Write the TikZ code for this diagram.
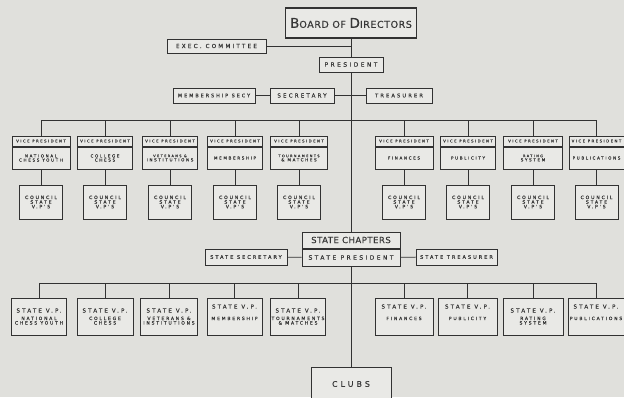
\documentclass[tikz,border=0pt]{standalone}
\usepackage{fontspec}
\usetikzlibrary{positioning}
\newfontfamily\chartfont[LetterSpace=40,FakeBold=0.4]{DejaVu Sans}
\newfontfamily\titlefont[LetterSpace=6,FakeBold=0.3]{DejaVu Sans}
\definecolor{ink}{RGB}{50,50,50}
\definecolor{lettering}{RGB}{55,55,55}
\definecolor{paper}{RGB}{224,224,220}
\definecolor{card}{RGB}{233,233,230}
\newcommand{\fs}[1]{\fontsize{#1}{#1}\selectfont}

\begin{document}
\begin{tikzpicture}[x=1pt,y=-1pt,
  box/.style={draw=ink,line width=1pt,fill=card,inner sep=0pt,align=center,
    text=lettering,font=\chartfont\fs{6}},
  vphead/.style={box,minimum height=10pt,font=\chartfont\fs{3.8}},
  vpbody/.style={box,minimum height=22pt,font=\chartfont\fs{4.1}},
  council/.style={box,minimum width=43pt,minimum height=34pt,font=\chartfont\fs{4.6}},
  statevp/.style={box,minimum height=37pt,font=\chartfont\fs{4.5}},
  link/.style={draw=ink,line width=0.9pt}]
\useasboundingbox[fill=paper] (0,0) rectangle (624,397);
\clip (0,0) rectangle (624,397);

\node[box,line width=1.6pt,minimum width=131pt,minimum height=30pt,font=\titlefont] (board) at (351,23)
  {{\fs{13.5}B}{\fs{9.5}OARD OF }{\fs{13.5}D}{\fs{9.5}IRECTORS}};
\node[box,minimum width=99pt,minimum height=14pt,font=\chartfont\fs{5.6}] (exec) at (216.5,46) {EXEC. COMMITTEE};
\node[box,minimum width=64pt,minimum height=15pt] (pres) at (351,64.5) {PRESIDENT};
\node[box,minimum width=82pt,minimum height=15pt,font=\chartfont\fs{4.9}] (memsec) at (214,95.5) {MEMBERSHIP SECY};
\node[box,minimum width=64pt,minimum height=15pt,font=\chartfont\fs{5.5}] (sec) at (302,95.5) {SECRETARY};
\node[box,minimum width=66pt,minimum height=15pt,font=\chartfont\fs{5.2}] (treas) at (399,95.5) {TREASURER};

\draw[link] (board) -- (pres);
\draw[link] (exec) -- (exec -| board);
\draw[link] (memsec) -- (sec);
\draw[link] (sec) -- (treas);

\node[vphead,minimum width=58pt] (vp1h) at (41,141) {VICE PRESIDENT};
\node[vpbody,minimum width=58pt,below=0pt of vp1h] (vp1) {NATIONAL\\CHESS YOUTH};
\node[vphead,minimum width=55pt] (vp2h) at (105,141) {VICE PRESIDENT};
\node[vpbody,minimum width=55pt,below=0pt of vp2h] (vp2) {COLLEGE\\CHESS};
\node[vphead,minimum width=55pt] (vp3h) at (170,141) {VICE PRESIDENT};
\node[vpbody,minimum width=55pt,below=0pt of vp3h] (vp3) {{\fs{3.5}VETERANS \&}\\INSTITUTIONS};
\node[vphead,minimum width=55pt] (vp4h) at (235,141) {VICE PRESIDENT};
\node[vpbody,minimum width=55pt,below=0pt of vp4h] (vp4) {MEMBERSHIP};
\node[vphead,minimum width=57pt] (vp5h) at (299,141) {VICE PRESIDENT};
\node[vpbody,minimum width=57pt,below=0pt of vp5h] (vp5) {{\fs{3.5}TOURNAMENTS}\\\& MATCHES};
\node[vphead,minimum width=58pt] (vp6h) at (404,141) {VICE PRESIDENT};
\node[vpbody,minimum width=58pt,below=0pt of vp6h] (vp6) {FINANCES};
\node[vphead,minimum width=55pt] (vp7h) at (468,141) {VICE PRESIDENT};
\node[vpbody,minimum width=55pt,below=0pt of vp7h] (vp7) {PUBLICITY};
\node[vphead,minimum width=59pt] (vp8h) at (533,141) {VICE PRESIDENT};
\node[vpbody,minimum width=59pt,below=0pt of vp8h] (vp8) {{\fs{3.5}RATING}\\SYSTEM};
\node[vphead,minimum width=55pt] (vp9h) at (596.5,141) {VICE PRESIDENT};
\node[vpbody,minimum width=55pt,below=0pt of vp9h] (vp9) {PUBLICATIONS};

\coordinate (vbus) at (351,120);
\draw[link] (vp1h.north |- vbus) -- (vp9h.north |- vbus);
\draw[link] (vp1h) -- (vp1h.north |- vbus);
\draw[link] (vp2h) -- (vp2h.north |- vbus);
\draw[link] (vp3h) -- (vp3h.north |- vbus);
\draw[link] (vp4h) -- (vp4h.north |- vbus);
\draw[link] (vp5h) -- (vp5h.north |- vbus);
\draw[link] (vp6h) -- (vp6h.north |- vbus);
\draw[link] (vp7h) -- (vp7h.north |- vbus);
\draw[link] (vp8h) -- (vp8h.north |- vbus);
\draw[link] (vp9h) -- (vp9h.north |- vbus);

\node[council,below=15pt of vp1] (cn1) {COUNCIL\\STATE\\V.P'S};
\node[council,below=15pt of vp2] (cn2) {COUNCIL\\STATE\\V.P'S};
\node[council,below=15pt of vp3] (cn3) {COUNCIL\\STATE\\V.P'S};
\node[council,below=15pt of vp4] (cn4) {COUNCIL\\STATE\\V.P'S};
\node[council,below=15pt of vp5] (cn5) {COUNCIL\\STATE\\V.P'S};
\node[council,below=15pt of vp6] (cn6) {COUNCIL\\STATE\\V.P'S};
\node[council,below=15pt of vp7] (cn7) {COUNCIL\\STATE\\V.P'S};
\node[council,below=15pt of vp8] (cn8) {COUNCIL\\STATE\\V.P'S};
\node[council,below=15pt of vp9] (cn9) {COUNCIL\\STATE\\V.P'S};
\draw[link] (vp1) -- (cn1);
\draw[link] (vp2) -- (cn2);
\draw[link] (vp3) -- (cn3);
\draw[link] (vp4) -- (cn4);
\draw[link] (vp5) -- (cn5);
\draw[link] (vp6) -- (cn6);
\draw[link] (vp7) -- (cn7);
\draw[link] (vp8) -- (cn8);
\draw[link] (vp9) -- (cn9);

\node[box,minimum width=98pt,minimum height=16pt,font=\titlefont\fs{8.5}] (chap) at (351,240) {STATE CHAPTERS};
\node[box,minimum width=98pt,minimum height=17pt,below=0pt of chap] (spres) {STATE PRESIDENT};
\node[box,minimum width=82pt,minimum height=16pt,font=\chartfont\fs{5}] (ssec) at (246,257) {STATE SECRETARY};
\node[box,minimum width=81pt,minimum height=16pt,font=\chartfont\fs{5}] (streas) at (456.5,257) {STATE TREASURER};
\draw[link] (pres) -- (chap);
\draw[link] (ssec) -- (spres);
\draw[link] (spres) -- (streas);

\node[statevp,minimum width=55pt] (svp1) at (39,316.5) {{\fs{5.5}STATE V.P.}\\[3pt]NATIONAL\\CHESS YOUTH};
\node[statevp,minimum width=56pt] (svp2) at (105,316.5) {{\fs{5.5}STATE V.P.}\\[3pt]COLLEGE\\CHESS};
\node[statevp,minimum width=57pt] (svp3) at (169,316.5) {{\fs{5.5}STATE V.P.}\\[3pt]VETERANS \&\\INSTITUTIONS};
\node[statevp,minimum width=55pt] (svp4) at (234.5,316.5) {{\fs{5.5}STATE V.P.}\\[7pt]MEMBERSHIP\\[4pt]};
\node[statevp,minimum width=55pt] (svp5) at (298,316.5) {{\fs{5.5}STATE V.P.}\\[3pt]TOURNAMENTS\\\& MATCHES};
\node[statevp,minimum width=58pt] (svp6) at (404,316.5) {{\fs{5.5}STATE V.P.}\\[7pt]FINANCES\\[4pt]};
\node[statevp,minimum width=59pt] (svp7) at (467.5,316.5) {{\fs{5.5}STATE V.P.}\\[7pt]PUBLICITY\\[4pt]};
\node[statevp,minimum width=60pt] (svp8) at (533,316.5) {{\fs{5.5}STATE V.P.}\\[3pt]RATING\\SYSTEM};
\node[statevp,minimum width=56pt] (svp9) at (596,316.5) {{\fs{5.5}STATE V.P.}\\[7pt]PUBLICATIONS\\[4pt]};

\coordinate (sbus) at (351,283);
\draw[link] (svp1.north |- sbus) -- (svp9.north |- sbus);
\draw[link] (svp1) -- (svp1.north |- sbus);
\draw[link] (svp2) -- (svp2.north |- sbus);
\draw[link] (svp3) -- (svp3.north |- sbus);
\draw[link] (svp4) -- (svp4.north |- sbus);
\draw[link] (svp5) -- (svp5.north |- sbus);
\draw[link] (svp6) -- (svp6.north |- sbus);
\draw[link] (svp7) -- (svp7.north |- sbus);
\draw[link] (svp8) -- (svp8.north |- sbus);
\draw[link] (svp9) -- (svp9.north |- sbus);

\node[box,minimum width=80pt,minimum height=34pt,font=\chartfont\fs{7.8}] (clubs) at (351,384) {CLUBS};
\draw[link] (spres) -- (clubs);
\end{tikzpicture}
\end{document}
